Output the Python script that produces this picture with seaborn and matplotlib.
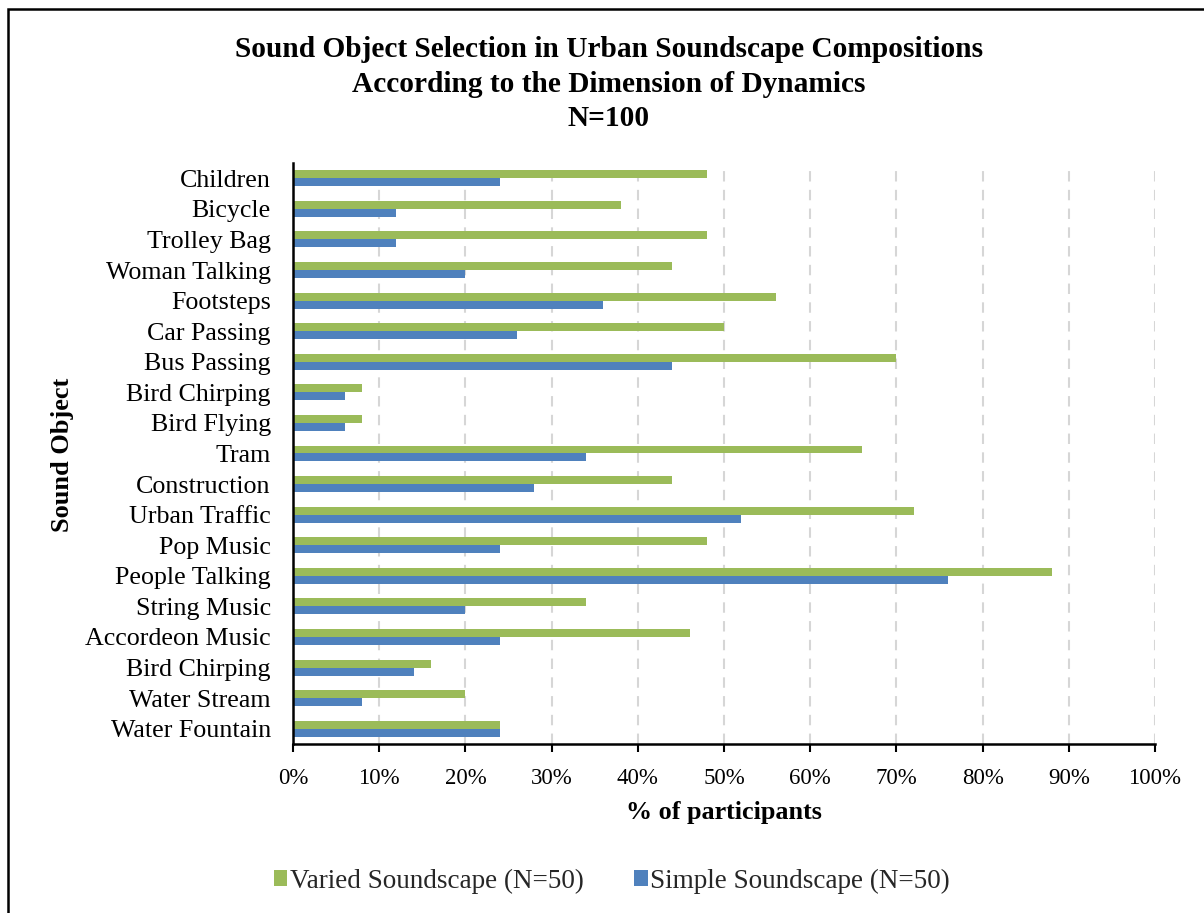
import numpy as np
import pandas as pd
import matplotlib
matplotlib.use("Agg")
import matplotlib.pyplot as plt
import matplotlib.patches as mpatches
from matplotlib.ticker import FuncFormatter
import seaborn as sns

# Sound objects, top to bottom
sound_objects = [
    "Children", "Bicycle", "Trolley Bag", "Woman Talking", "Footsteps",
    "Car Passing", "Bus Passing", "Bird Chirping", "Bird Flying", "Tram",
    "Construction", "Urban Traffic", "Pop Music", "People Talking",
    "String Music", "Accordeon Music", "Bird Chirping", "Water Stream",
    "Water Fountain",
]

# % of participants selecting each object
varied_pct = [48, 38, 48, 44, 56, 50, 70, 8, 8, 66, 44, 72, 48, 88, 34, 46, 16, 20, 24]
simple_pct = [24, 12, 12, 20, 36, 26, 44, 6, 6, 34, 28, 52, 24, 76, 20, 24, 14, 8, 24]

series_names = ["Varied Soundscape (N=50)", "Simple Soundscape (N=50)"]
series_colors = ["#9BBB59", "#4F81BD"]

x_ticks = list(range(0, 101, 10))

title_lines = [
    "Sound Object Selection in Urban Soundscape Compositions",
    "According to the Dimension of Dynamics",
    "N=100",
]

sns.set_theme(style="white")
plt.rcParams["font.family"] = ["Liberation Serif", "DejaVu Serif"]

n = len(sound_objects)
df = pd.DataFrame({
    "row": list(range(n)) * 2,
    "pct": varied_pct + simple_pct,
    "group": [series_names[0]] * n + [series_names[1]] * n,
})

W, H = 1204, 913
fig = plt.figure(figsize=(W / 100, H / 100), dpi=100)
ax = fig.add_axes([293 / W, 1 - 744 / H, 862 / W, 581 / H])

sns.barplot(
    data=df, x="pct", y="row", hue="group", hue_order=series_names,
    palette=series_colors, orient="h", width=0.52, saturation=1,
    linewidth=0, legend=False, ax=ax,
)

ax.set_xlim(0, 100)
ax.set_xticks(x_ticks)
ax.xaxis.set_major_formatter(FuncFormatter(lambda v, p: f"{v:.0f}%"))
ax.set_yticks(range(n))
ax.set_yticklabels(sound_objects, fontsize=18.7)

ax.grid(axis="x", color="#d6d6d6", linewidth=1.5, linestyle=(0, (5, 4)))
ax.grid(axis="y", visible=False)
ax.set_axisbelow(True)

for side in ["top", "right"]:
    ax.spines[side].set_visible(False)
for side in ["left", "bottom"]:
    ax.spines[side].set_color("black")
    ax.spines[side].set_linewidth(1.8)

ax.tick_params(axis="x", which="major", length=6, width=1.5, color="black",
               direction="out", bottom=True, labelsize=16.5, pad=11, labelcolor="black")
ax.tick_params(axis="y", length=0, pad=16, labelcolor="black")

ax.set_xlabel("% of participants", fontsize=18.8, fontweight="bold", color="black")
ax.set_ylabel("Sound Object", fontsize=19, fontweight="bold", color="black")
ax.xaxis.set_label_coords(0.5, -0.098)
ax.yaxis.set_label_coords(-0.254, 0.497)

fig.text(609 / W, 1 - 36 / H, "\n".join(title_lines), ha="center", va="top",
         fontsize=21.2, fontweight="bold", linespacing=1.36, color="black")

handles = [mpatches.Patch(facecolor=c, edgecolor="none", label=s)
           for s, c in zip(series_names, series_colors)]
fig.legend(handles=handles, loc="center", bbox_to_anchor=(612 / W, 1 - 881 / H),
           ncol=2, frameon=False, fontsize=19.5, handlelength=0.5, handleheight=0.5,
           handletextpad=0.1, columnspacing=1.85, borderaxespad=0)

# outer chart frame
fig.patches.append(mpatches.Rectangle(
    (8 / W, -0.05), 1.2, 1 - 9 / H + 0.05, transform=fig.transFigure,
    fill=False, edgecolor="black", linewidth=1.8, zorder=10))

fig.savefig("out.png", dpi=100)
